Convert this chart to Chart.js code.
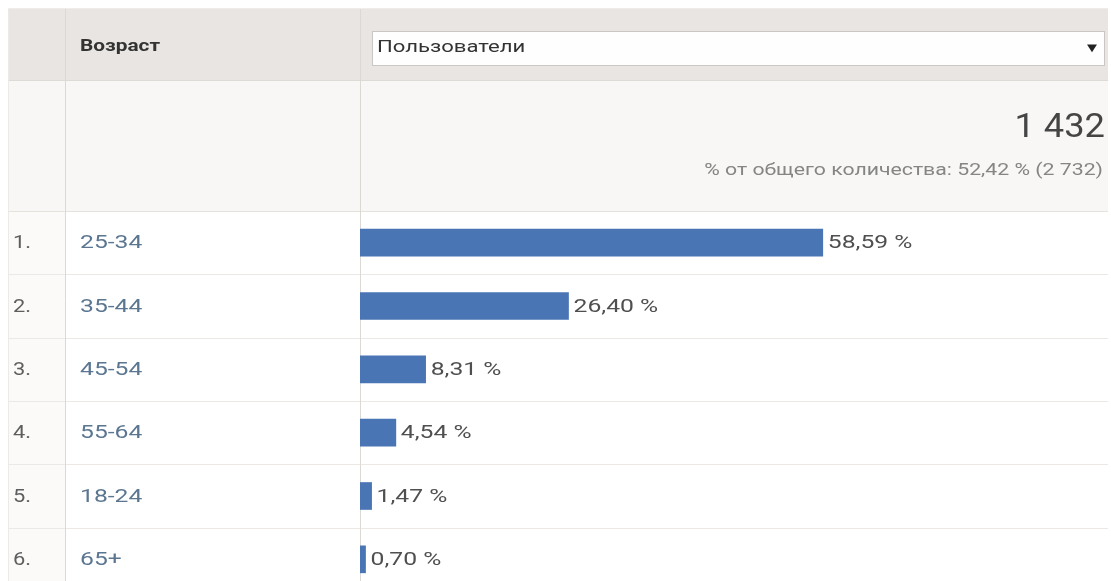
<!DOCTYPE html>
<html>
<head>
<meta charset="utf-8">
<script src="https://cdn.jsdelivr.net/npm/chart.js@4/dist/chart.umd.min.js"></script>
<style>
  html, body { margin: 0; padding: 0; background: #fff; overflow: hidden; }
  #wrap { position: relative; width: 1111px; height: 591px; }
</style>
</head>
<body>
<div id="wrap"><canvas id="ageChart"></canvas></div>
<script>
// data
const rankLabels = ['1.', '2.', '3.', '4.', '5.', '6.'];
const ageGroups = ['25-34', '35-44', '45-54', '55-64', '18-24', '65+'];
const userShares = [58.59, 26.40, 8.31, 4.54, 1.47, 0.70];
const shareLabels = ['58,59 %', '26,40 %', '8,31 %', '4,54 %', '1,47 %', '0,70 %'];
const dimensionTitle = 'Возраст';
const metricTitle = 'Пользователи';
const metricTotal = '1 432';
const metricNote = '% от общего количества: 52,42 % (2 732)';

// the screenshot is stretched sideways, so text is too
const SX = 1.3;
const FONT = 'Roboto, "Noto Sans", sans-serif';

function txt(ctx, s, x, y, align, font, color, sx = SX) {
  ctx.save();
  ctx.font = font;
  ctx.fillStyle = color;
  ctx.textBaseline = 'middle';
  ctx.textAlign = align;
  ctx.translate(x, y);
  ctx.scale(sx, 1);
  ctx.fillText(s, 0, 0);
  ctx.restore();
}

function hline(ctx, x1, x2, y, c) {
  ctx.strokeStyle = c; ctx.lineWidth = 1;
  ctx.beginPath(); ctx.moveTo(x1, y + 0.5); ctx.lineTo(x2, y + 0.5); ctx.stroke();
}
function vline(ctx, x, y1, y2, c) {
  ctx.strokeStyle = c; ctx.lineWidth = 1;
  ctx.beginPath(); ctx.moveTo(x + 0.5, y1); ctx.lineTo(x + 0.5, y2); ctx.stroke();
}

const tablePlugin = {
  id: 'gaTable',
  beforeDraw(chart) {
    const ctx = chart.ctx;
    const y = chart.scales.y;
    const left = 8, right = 1108, top = 8, headBottom = 80, totBottom = chart.chartArea.top;
    const bottom = chart.height;
    ctx.save();
    ctx.fillStyle = '#ffffff';
    ctx.fillRect(0, 0, chart.width, chart.height);
    // header band
    ctx.fillStyle = '#e8e5e2';
    ctx.fillRect(left, top, right - left, headBottom - top);
    // totals band
    ctx.fillStyle = '#f8f7f5';
    ctx.fillRect(left, headBottom, right - left, totBottom - headBottom);
    // rank column in body
    ctx.fillStyle = '#fbfaf9';
    ctx.fillRect(left, totBottom, 65 - left, bottom - totBottom);

    // row lines on the category band edges
    for (let i = 1; i < ageGroups.length; i++) {
      const edge = (y.getPixelForValue(i - 1) + y.getPixelForValue(i)) / 2;
      hline(ctx, left, right, Math.round(edge), '#ebe8e5');
    }
    hline(ctx, left, right, headBottom, '#dedad6');
    hline(ctx, left, right, totBottom, '#e6e2de');
    vline(ctx, left, top, bottom, '#ece9e6');
    vline(ctx, 65, top, bottom, '#dcd8d4');
    vline(ctx, 360, top, bottom, '#dcd8d4');
    hline(ctx, left, right, top, '#efece9');

    // header text + dropdown
    txt(ctx, dimensionTitle, 80, 47, 'left', 'bold 16px ' + FONT, '#333333');
    ctx.fillStyle = '#fefefe';
    ctx.fillRect(372, 31, 1104 - 372, 34);
    ctx.strokeStyle = '#c9c6c3';
    ctx.strokeRect(372.5, 31.5, 1104 - 372, 34);
    txt(ctx, metricTitle, 377, 48, 'left', '17px ' + FONT, '#333333');
    txt(ctx, '▼', 1092, 48, 'center', '10px "DejaVu Sans", sans-serif', '#222222');

    // totals
    txt(ctx, metricTotal, 1105, 129, 'right', '33px ' + FONT, '#454545', 1.1);
    txt(ctx, metricNote, 1103, 171, 'right', '17px ' + FONT, '#858585', 1.25);
    ctx.restore();
  },
  afterDatasetsDraw(chart) {
    const ctx = chart.ctx;
    const y = chart.scales.y;
    const meta = chart.getDatasetMeta(0);
    ageGroups.forEach((g, i) => {
      const cy = y.getPixelForValue(i) + 1;
      txt(ctx, rankLabels[i], 13, cy, 'left', '19px ' + FONT, '#5e5e5e', 1.15);
      txt(ctx, g, 80, cy, 'left', '19px ' + FONT, '#5b7690');
      const bar = meta.data[i];
      txt(ctx, shareLabels[i], bar.x + 5, cy, 'left', '19px ' + FONT, '#4f4f4f');
    });
  }
};

new Chart(document.getElementById('ageChart'), {
  type: 'bar',
  data: {
    labels: ageGroups,
    datasets: [{
      label: metricTitle,
      data: userShares,
      backgroundColor: '#4a75b5',
      borderWidth: 0,
      barThickness: 27
    }]
  },
  options: {
    indexAxis: 'y',
    responsive: true,
    maintainAspectRatio: false,
    animation: false,
    devicePixelRatio: 1,
    layout: { padding: { left: 360, right: 3, top: 211, bottom: 0 } },
    scales: {
      x: { display: false, min: 0, max: 94.7 },
      y: { display: false }
    },
    plugins: { legend: { display: false }, tooltip: { enabled: false } }
  },
  plugins: [tablePlugin]
});
</script>
</body>
</html>
